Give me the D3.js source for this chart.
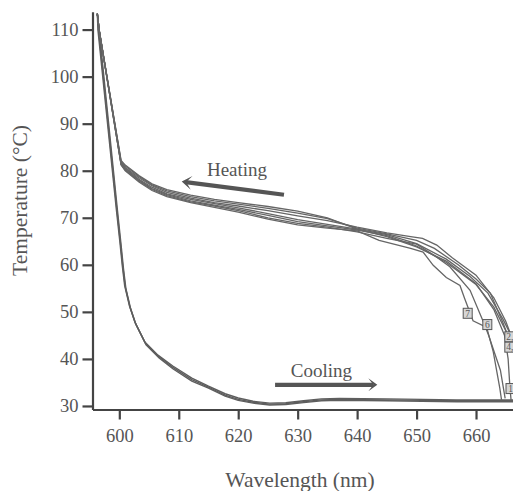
<!DOCTYPE html>
<html>
<head>
<meta charset="utf-8">
<script src="https://cdn.jsdelivr.net/npm/d3@7"></script>
<style>
  body { margin: 0; background: #fff; }
  svg { display: block; font-family: "Liberation Serif", "Times New Roman", serif; }
</style>
</head>
<body>
<svg id="chart"></svg>
<script>
// tick labels
var xTicks = [600, 610, 620, 630, 640, 650, 660];
var yTicks = [30, 40, 50, 60, 70, 80, 90, 100, 110];

// heating runs, [wavelength nm, temperature C]
var heat1 = [[596.3,113.4],[596.6,110],[600.3,82.2],[601,81.2],[603.3,79.0],[605.5,77.2],[608,76.0],[612,74.8],[616,73.9],[620,73.2],[625,72.4],[630,71.4],[635,70.0],[640,67.6],[645,66.0],[650,63.8],[655,60.8],[660,56.0],[663,50.5],[664.8,45],[665.4,40],[665.7,34],[665.9,31.2]];
var heat2 = [[596.3,113.4],[596.6,110],[600.3,82.0],[601,81.0],[603.3,78.8],[605.5,77.0],[608,75.7],[612,74.5],[616,73.6],[620,72.9],[625,72.0],[630,71.0],[635,69.8],[640,67.8],[645,66.6],[650,65.2],[653,63.5],[657,60.0],[660,57.0],[662.4,54.0],[664.6,47.5],[666.5,41]];
var heat3 = [[596.3,113.4],[596.6,110],[600.3,81.8],[601,80.7],[603.3,78.5],[605.5,76.8],[608,75.4],[612,74.2],[616,73.2],[620,72.5],[625,71.5],[630,70.4],[635,69.4],[640,68.0],[645,66.8],[649,66.0],[651,65.6],[653.4,64.2],[656,61.5],[660,57.8],[663,53],[665,48],[666.5,43]];
var heat4 = [[596.3,113.4],[596.6,110],[600.3,81.6],[601,80.5],[603.3,78.2],[605.5,76.5],[608,75.1],[612,73.9],[616,73.0],[620,72.1],[625,70.9],[630,69.6],[635,68.6],[640,67.6],[645,66.4],[650,64.5],[655,61.2],[659,57.5],[662,54],[664.5,48.5],[666.5,43.5]];
var heat5 = [[596.3,113.4],[596.6,110],[600.3,81.4],[601,80.3],[603.3,78.0],[605.5,76.2],[608,74.9],[612,73.6],[616,72.7],[620,71.8],[625,70.5],[630,69.2],[635,68.3],[640,67.4],[645,66.2],[650,64.0],[655,60.5],[660,55.8],[663,51],[665,46],[666.5,41]];
var heat6 = [[596.3,113.4],[596.6,110],[600.3,81.3],[601,80.1],[603.3,77.8],[605.5,76.0],[608,74.7],[612,73.4],[616,72.5],[620,71.5],[625,70.0],[630,68.8],[635,68.0],[640,67.0],[645,65.6],[650,64.4],[653,62.0],[655.6,59.6],[659,54.6],[661,48.6],[662.1,45.1],[664.1,37.6],[664.9,31.6]];
var heat7 = [[596.3,113.4],[596.6,110],[600.3,81.2],[601,80.0],[603.3,77.6],[605.5,75.8],[608,74.5],[612,73.2],[616,72.2],[620,71.2],[625,69.7],[630,68.5],[635,67.8],[640,67.2],[643.7,65.2],[649,63.5],[651.1,62.7],[652.8,59.9],[655,57.3],[657.3,55.6],[658.1,52.8],[659.5,48.1],[661.8,46.7],[662.9,41.5],[664,33.8],[664.3,31.2]];

// cooling runs
var cool1 = [[596.3,113.4],[596.5,110],[599.6,71.6],[600.2,64.5],[600.6,59.5],[601,55.3],[601.8,51.0],[602.7,47.6],[604.4,43.3],[606.6,40.5],[609,38.2],[612.2,35.6],[615,34.0],[617.8,32.3],[620,31.4],[622.5,30.8],[625.3,30.4],[628,30.5],[631,30.9],[634,31.3],[637,31.4],[645,31.3],[656.8,31.1],[666.3,31.1]];
var cool2 = [[596.3,113.4],[596.4,110],[599.5,71.8],[600.1,64.8],[600.5,59.8],[600.9,55.6],[601.7,51.3],[602.6,47.9],[604.3,43.6],[606.5,40.8],[609,38.5],[612.2,35.9],[615,34.2],[617.8,32.6],[620,31.7],[622.5,31.0],[625.3,30.6],[628,30.7],[631,31.1],[634,31.5],[637,31.6],[645,31.5],[656.8,31.3],[666.3,31.3]];
var cool3 = [[596.3,113.4],[596.6,110],[599.7,71.4],[600.3,64.2],[600.7,59.2],[601.1,55.0],[601.9,50.7],[602.8,47.3],[604.5,43.0],[606.7,40.2],[609,37.9],[612.2,35.3],[615,33.8],[617.8,32.1],[620,31.2],[622.5,30.6],[625.3,30.2],[628,30.3],[631,30.7],[634,31.1],[637,31.2],[645,31.1],[656.8,30.9],[666.3,30.9]];

var heatRuns = [heat1, heat2, heat3, heat4, heat5, heat6, heat7];
var coolRuns = [cool1, cool2, cool3];

// run labels [text, wavelength, temperature]
var runLabels = [["7", 658.6, 49.7], ["6", 661.9, 47.3], ["2,", 665.6, 44.7], ["4,", 665.6, 42.5], ["1", 665.8, 33.7]];

// annotations [text, wavelength, temperature], arrows [from, to]
var heatText = ["Heating", 619.8, 78.9];
var coolText = ["Cooling", 634.0, 36.2];
var heatArrow = [[627.7, 74.9], [610.5, 77.7]];
var coolArrow = [[626.2, 34.5], [643.4, 34.5]];

var W = 513, H = 491;
var svg = d3.select("#chart").attr("width", W).attr("height", H);

var x = d3.scaleLinear().domain([595.49, 666.22]).range([92.5, 513]);
var y = d3.scaleLinear().domain([29.25, 113.8]).range([409.5, 11.7]);

svg.append("defs").append("clipPath").attr("id", "plot")
  .append("rect").attr("x", 92.5).attr("y", 11.7).attr("width", 513 - 92.5).attr("height", 409.5 - 11.7);

var line = d3.line().x(d => x(d[0])).y(d => y(d[1]));

var plot = svg.append("g").attr("clip-path", "url(#plot)");

plot.selectAll(".cool").data(coolRuns).join("path")
  .attr("class", "cool")
  .attr("d", line)
  .attr("fill", "none")
  .attr("stroke", "#5e5e5e")
  .attr("stroke-width", 1.4);

plot.selectAll(".heat").data(heatRuns).join("path")
  .attr("class", "heat")
  .attr("d", line)
  .attr("fill", "none")
  .attr("stroke", "#666")
  .attr("stroke-width", 1.3);

// run labels
var lab = plot.selectAll(".lab").data(runLabels).join("g")
  .attr("class", "lab")
  .attr("transform", d => `translate(${x(d[1])},${y(d[2])})`);
lab.append("rect")
  .attr("x", -4.5).attr("y", -5).attr("width", 9).attr("height", 10)
  .attr("fill", "#d6d6d6").attr("stroke", "#555").attr("stroke-width", 1);
lab.append("text")
  .attr("x", d => d[0].length > 1 ? -3 : 0)
  .attr("y", 3.3)
  .attr("text-anchor", d => d[0].length > 1 ? "start" : "middle")
  .attr("font-size", 9.5)
  .attr("fill", "#555")
  .text(d => d[0]);

// arrows
function arrow(a, len, half, w) {
  var x0 = x(a[0][0]), y0 = y(a[0][1]), x1 = x(a[1][0]), y1 = y(a[1][1]);
  var dx = x1 - x0, dy = y1 - y0, L = Math.hypot(dx, dy);
  var ux = dx / L, uy = dy / L, nx = -uy, ny = ux;
  plot.append("line")
    .attr("x1", x0).attr("y1", y0)
    .attr("x2", x1 - ux * 4).attr("y2", y1 - uy * 4)
    .attr("stroke", "#555").attr("stroke-width", w);
  var bx = x1 - ux * len, by = y1 - uy * len;
  var mx = x1 - ux * (len * 0.45), my = y1 - uy * (len * 0.45);
  plot.append("path")
    .attr("d", `M${x1},${y1}L${bx + nx * half},${by + ny * half}L${mx},${my}L${bx - nx * half},${by - ny * half}Z`)
    .attr("fill", "#555");
}
arrow(heatArrow, 10, 7, 4.2);
arrow(coolArrow, 9, 6.5, 4.2);

svg.selectAll(".note").data([heatText, coolText]).join("text")
  .attr("class", "note")
  .attr("x", d => x(d[1]))
  .attr("y", d => y(d[2]))
  .attr("text-anchor", "middle")
  .attr("font-size", 19)
  .attr("fill", "#555")
  .text(d => d[0]);

// axes
var gx = svg.append("g").attr("transform", "translate(0,409.5)")
  .call(d3.axisBottom(x).tickValues(xTicks).tickSize(10).tickPadding(9.5).tickSizeOuter(0));
var gy = svg.append("g").attr("transform", "translate(92.5,0)")
  .call(d3.axisLeft(y).tickValues(yTicks).tickSize(10).tickPadding(4).tickSizeOuter(0));

[gx, gy].forEach(g => {
  g.select(".domain").attr("stroke", "#444").attr("stroke-width", 2.2);
  g.selectAll(".tick line").attr("stroke", "#444").attr("stroke-width", 2.2);
  g.selectAll(".tick text").attr("fill", "#555").attr("font-size", 18.5)
    .attr("font-family", "Liberation Serif, serif");
});

svg.append("text")
  .attr("x", 300).attr("y", 487)
  .attr("text-anchor", "middle")
  .attr("font-size", 21.5)
  .attr("fill", "#555")
  .text("Wavelength (nm)");

svg.append("text")
  .attr("transform", "translate(27,200.5) rotate(-90)")
  .attr("text-anchor", "middle")
  .attr("font-size", 21.5)
  .attr("fill", "#555")
  .text("Temperature (°C)");
</script>
</body>
</html>
